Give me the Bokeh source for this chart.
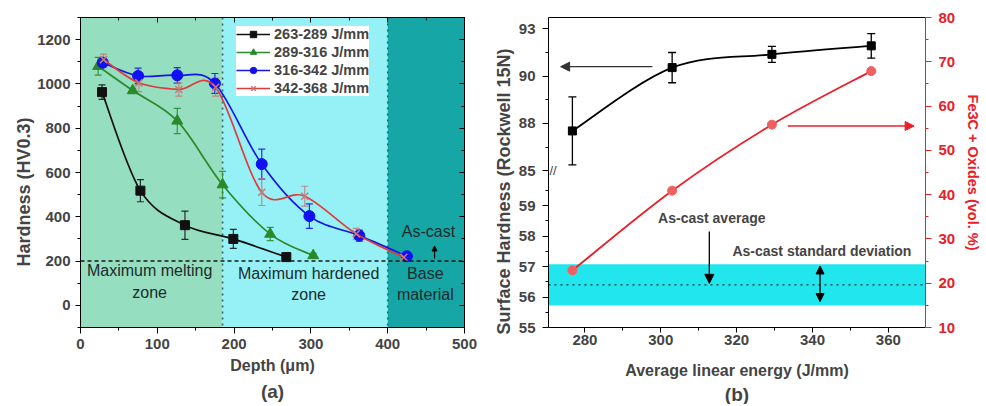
import numpy as np
from bokeh.plotting import figure
from bokeh.layouts import row
from bokeh.models import (Range1d, LinearAxis, SingleIntervalTicker, FixedTicker, Whisker, TeeHead,
                          ColumnDataSource, BoxAnnotation, Span, Label, Arrow, NormalHead, Legend,
                          LegendItem, CustomJSTickFormatter, Title)
from bokeh.embed import file_html
from bokeh.resources import INLINE

FONT = "Liberation Sans"

# ---------------- panel (a) data ----------------
series_labels = ["263-289 J/mm", "289-316 J/mm", "316-342 J/mm", "342-368 J/mm"]

depth_263 = [28, 78, 136, 199, 268]
hv_263 = [963, 518, 362, 300, 218]
err_263 = [33, 50, 64, 43, 8]

depth_289 = [23, 68, 126, 185, 247, 303]
hv_289 = [1080, 970, 833, 545, 322, 225]
err_289 = [40, 10, 57, 60, 30, 10]

depth_316 = [29, 75, 126, 175, 236, 298, 363, 425]
hv_316 = [1096, 1036, 1039, 1002, 638, 403, 315, 222]
err_316 = [20, 35, 35, 45, 68, 55, 25, 10]

depth_342 = [30, 76, 128, 176, 236, 292, 359, 421]
hv_342 = [1110, 1005, 975, 985, 511, 493, 323, 217]
err_342 = [25, 40, 30, 40, 60, 45, 25, 8]

zone_edges = [0, 185, 400, 500]
zone_colors = ["#95DEC0", "#96F1F6", "#17A6A6"]
as_cast_hv = 200

# ---------------- panel (b) data ----------------
energy = [276.7, 303.0, 329.3, 355.5]
hardness_15n = [87.1, 90.45, 91.15, 91.6]
hardness_err = [1.8, 0.8, 0.42, 0.65]
fe3c_oxides = [22.9, 40.9, 55.8, 67.9]
as_cast_avg = 56.4
as_cast_sd = 0.68

low_ticks = [55, 56, 57, 58, 59]
high_ticks = [85, 87.5, 90, 92.5]


def smooth(x, y):
    """Bezier segments (Catmull-Rom tangents) passing through every data point."""
    x = np.asarray(x, float)
    y = np.asarray(y, float)
    n = len(x)
    xp = np.concatenate([[x[0]], x, [x[-1]]])
    yp = np.concatenate([[y[0]], y, [y[-1]]])
    return dict(
        x0=x[:-1], y0=y[:-1], x1=x[1:], y1=y[1:],
        cx0=xp[1:n] + (xp[2:n + 1] - xp[0:n - 1]) / 6.0,
        cy0=yp[1:n] + (yp[2:n + 1] - yp[0:n - 1]) / 6.0,
        cx1=xp[2:n + 1] - (xp[3:n + 2] - xp[1:n]) / 6.0,
        cy1=yp[2:n + 1] - (yp[3:n + 2] - yp[1:n]) / 6.0,
    )


def style_axis(ax, size="15px"):
    ax.major_label_text_font = FONT
    ax.major_label_text_font_style = "bold"
    ax.major_label_text_font_size = size
    ax.axis_label_text_font = FONT
    ax.axis_label_text_font_style = "bold"
    ax.major_tick_out = 5
    ax.major_tick_in = 0
    ax.minor_tick_out = 3
    ax.minor_tick_in = 0
    ax.axis_line_color = "black"
    ax.major_tick_line_color = "black"
    ax.minor_tick_line_color = "black"


def mirror_axis(ticker, tick_in=5, minor_in=3):
    return LinearAxis(ticker=ticker, major_label_text_font_size="1px", major_label_text_color=None,
                      major_label_standoff=0, major_tick_in=tick_in, major_tick_out=0,
                      minor_tick_in=minor_in, minor_tick_out=0, axis_line_color="black")


H = 404

# ======================= panel (a) =======================
p1 = figure(width=490, height=H, x_range=Range1d(0, 500), y_range=Range1d(-100, 1300),
            output_backend="svg", toolbar_location=None,
            min_border_left=80, min_border_right=26, min_border_top=17, min_border_bottom=H - 328)
p1.grid.visible = False
p1.outline_line_color = "black"

p1.xaxis.ticker = SingleIntervalTicker(interval=100, num_minor_ticks=2)
p1.yaxis.ticker = SingleIntervalTicker(interval=200, num_minor_ticks=2)
style_axis(p1.xaxis[0])
style_axis(p1.yaxis[0])
p1.xaxis.major_tick_out = 6
p1.xaxis.axis_label = "Depth (μm)"
p1.xaxis.axis_label_text_font_size = "16px"
p1.xaxis.major_label_standoff = 5
p1.xaxis.axis_label_standoff = 5
p1.yaxis.major_label_standoff = 5
p1.add_layout(mirror_axis(SingleIntervalTicker(interval=100, num_minor_ticks=2)), "above")
p1.add_layout(mirror_axis(SingleIntervalTicker(interval=200, num_minor_ticks=2)), "right")
p1.add_layout(Title(text="Hardness (HV0.3)", align="left", offset=61, standoff=2, text_font=FONT,
                    text_font_style="bold", text_font_size="18px"), "left")
p1.add_layout(Title(text="(a)", align="center", offset=7, standoff=4, text_font=FONT,
                    text_font_style="bold", text_font_size="19px"), "below")

for i in range(len(zone_colors)):
    p1.add_layout(BoxAnnotation(left=zone_edges[i], right=zone_edges[i + 1], fill_color=zone_colors[i],
                                fill_alpha=1.0, line_color=None, level="underlay"))
for edge in zone_edges[1:-1]:
    p1.add_layout(Span(location=edge, dimension="height", line_color="#1E6E66", line_width=1.6,
                       line_dash="dotted", level="underlay"))
p1.add_layout(Span(location=as_cast_hv, dimension="width", line_color="#1a1a1a", line_width=1.6,
                   line_dash="4 3"))

series = [
    (depth_263, hv_263, err_263, "#111111", "square", 9, "#111111"),
    (depth_289, hv_289, err_289, "#2A8A2A", "triangle", 11, "#2A8A2A"),
    (depth_316, hv_316, err_316, "#1515E6", "circle", 11, "#1010F0"),
    (depth_342, hv_342, err_342, "#E03A3A", "x", 10, "#C87878"),
]
items = []
for (xs, ys, es, col, mk, sz, mcol), lab in zip(series, series_labels):
    seg = ColumnDataSource(smooth(xs, ys))
    rc = p1.bezier(x0="x0", y0="y0", x1="x1", y1="y1", cx0="cx0", cy0="cy0", cx1="cx1", cy1="cy1",
                   source=seg, line_color=col, line_width=1.7)
    src = ColumnDataSource(dict(x=xs, y=ys, up=[a + b for a, b in zip(ys, es)],
                                lo=[a - b for a, b in zip(ys, es)]))
    p1.add_layout(Whisker(base="x", upper="up", lower="lo", source=src, line_color=mcol, line_alpha=0.85,
                          line_width=1.2,
                          upper_head=TeeHead(size=7, line_color=mcol, line_alpha=0.85, line_width=1.2),
                          lower_head=TeeHead(size=7, line_color=mcol, line_alpha=0.85, line_width=1.2)))
    rp = p1.scatter(x="x", y="y", source=src, marker=mk, size=sz, fill_color=mcol, line_color=mcol,
                    line_width=1.5 if mk == "x" else 1)
    items.append(LegendItem(label=lab, renderers=[rc, rp]))

legend = Legend(items=items, location=(156, 231), label_text_font=FONT, label_text_font_style="bold",
                label_text_font_size="14.5px", label_height=16, glyph_height=16, glyph_width=34,
                spacing=2, padding=3, label_standoff=4, border_line_color=None,
                background_fill_color="white", background_fill_alpha=1.0)
p1.add_layout(legend)

zone_txt = dict(text_font=FONT, text_font_size="16px", text_color="#1c2b2b", text_align="center",
                text_baseline="middle")
for x, y, t in [(90, 158, "Maximum melting"), (90, 56, "zone"),
                (297, 146, "Maximum hardened"), (297, 50, "zone"),
                (449, 146, "Base"), (449, 50, "material"),
                (453, 333, "As-cast")]:
    p1.add_layout(Label(x=x, y=y, text=t, **zone_txt))
p1.add_layout(Arrow(x_start=461, y_start=212, x_end=461, y_end=268, line_color="black", line_width=1.2,
                    end=NormalHead(size=5, fill_color="black", line_color="black")))

# ======================= panel (b) =======================
LOW_TOP = 60.15
HIGH_TOP = 93.1
BREAK_FRAC = 0.506
lo_rng = Range1d(low_ticks[0], low_ticks[0] + (LOW_TOP - low_ticks[0]) / BREAK_FRAC)
hi_rng = Range1d(HIGH_TOP - (HIGH_TOP - high_ticks[0]) / (1 - BREAK_FRAC), HIGH_TOP)
fe_rng = Range1d(10, 80)

W2 = 494
p2 = figure(width=W2, height=H, x_range=Range1d(270.4, 369.8), y_range=lo_rng,
            output_backend="svg", toolbar_location=None,
            min_border_left=54, min_border_right=W2 - 439, min_border_top=17, min_border_bottom=H - 330)
p2.extra_y_ranges = {"high": hi_rng, "fe": fe_rng}
p2.grid.visible = False
p2.outline_line_color = None

lo_span = lo_rng.end - lo_rng.start
hi_span = hi_rng.end - hi_rng.start
mapped_high = [lo_rng.start + (t - hi_rng.start) * lo_span / hi_span for t in high_ticks]
minor_low = [t + 0.5 for t in low_ticks]
minor_high = [lo_rng.start + ((a + b) / 2 - hi_rng.start) * lo_span / hi_span
              for a, b in zip(high_ticks[:-1], high_ticks[1:])]
p2.yaxis.ticker = FixedTicker(ticks=low_ticks + mapped_high, minor_ticks=minor_low + minor_high)
p2.yaxis.formatter = CustomJSTickFormatter(
    args=dict(ls=lo_rng.start, le=lo_rng.end, hs=hi_rng.start, he=hi_rng.end,
              brk=low_ticks[-1] + 0.5),
    code="""
    let v = tick;
    if (tick > brk) { v = hs + (tick - ls) * (he - hs) / (le - ls); }
    return Math.round(v + 1e-6).toFixed(0);
    """)
style_axis(p2.yaxis[0])
p2.yaxis.major_tick_out = 6
p2.yaxis.major_label_standoff = 7
p2.add_layout(Title(text="Surface Hardness (Rockwell 15N)", align="left", offset=-7, standoff=3,
                    text_font=FONT, text_font_style="bold", text_font_size="18px"), "left")

p2.xaxis.ticker = SingleIntervalTicker(interval=20, num_minor_ticks=2)
style_axis(p2.xaxis[0])
p2.xaxis.major_tick_out = 5
p2.xaxis.axis_label = "Average linear energy (J/mm)"
p2.xaxis.axis_label_text_font_size = "16px"
p2.xaxis.major_label_standoff = 2
p2.xaxis.axis_label_standoff = 14
p2.add_layout(Title(text="(b)", align="center", offset=5, standoff=0, text_font=FONT,
                    text_font_style="bold", text_font_size="19px"), "below")

RED = "#E8202A"
rax = LinearAxis(y_range_name="fe", ticker=SingleIntervalTicker(interval=10, num_minor_ticks=2),
                 axis_label="Fe3C + Oxides (vol. %)")
style_axis(rax)
rax.major_tick_out = 6
rax.axis_line_color = RED
rax.major_tick_line_color = RED
rax.minor_tick_line_color = RED
rax.major_label_text_color = RED
rax.axis_label_text_color = RED
rax.axis_label_text_font_size = "14.5px"
rax.major_label_standoff = 7
rax.axis_label_standoff = 7
p2.add_layout(rax, "right")
p2.add_layout(mirror_axis(SingleIntervalTicker(interval=20), tick_in=0, minor_in=0), "above")

p2.add_layout(BoxAnnotation(bottom=as_cast_avg - as_cast_sd, top=as_cast_avg + as_cast_sd,
                            fill_color="#22E6EE", fill_alpha=1.0, line_color=None, level="underlay"))
p2.add_layout(Span(location=as_cast_avg, dimension="width", line_color="black", line_width=1,
                   line_dash="dotted"))

# hardness (black, upper segment of left axis)
seg_h = ColumnDataSource(smooth(energy, hardness_15n))
p2.bezier(x0="x0", y0="y0", x1="x1", y1="y1", cx0="cx0", cy0="cy0", cx1="cx1", cy1="cy1",
          source=seg_h, line_color="black", line_width=1.8, y_range_name="high")
src_h = ColumnDataSource(dict(x=energy, y=hardness_15n,
                              up=[a + b for a, b in zip(hardness_15n, hardness_err)],
                              lo=[a - b for a, b in zip(hardness_15n, hardness_err)]))
p2.add_layout(Whisker(base="x", upper="up", lower="lo", source=src_h, y_range_name="high",
                      line_color="black", line_width=1.3,
                      upper_head=TeeHead(size=8, line_color="black", line_width=1.3),
                      lower_head=TeeHead(size=8, line_color="black", line_width=1.3)))
p2.scatter(x="x", y="y", source=src_h, marker="square", size=8, fill_color="black", line_color="black",
           y_range_name="high")

# Fe3C + oxides (red, right axis)
seg_f = ColumnDataSource(smooth(energy, fe3c_oxides))
p2.bezier(x0="x0", y0="y0", x1="x1", y1="y1", cx0="cx0", cy0="cy0", cx1="cx1", cy1="cy1",
          source=seg_f, line_color=RED, line_width=1.8, y_range_name="fe")
p2.scatter(x=energy, y=fe3c_oxides, marker="circle", size=9, fill_color="#F06060", line_color="#F06060",
           y_range_name="fe")

# annotations
p2.add_layout(Arrow(x_start=297.8, y_start=90.5, x_end=273.6, y_end=90.5, y_range_name="high",
                    line_color="#333333", line_width=1.3,
                    end=NormalHead(size=9, fill_color="#333333", line_color="#333333")))
p2.add_layout(Arrow(x_start=333.5, y_start=55.5, x_end=366.8, y_end=55.5, y_range_name="fe",
                    line_color=RED, line_width=1.3, end=NormalHead(size=9, fill_color=RED, line_color=RED)))
p2.add_layout(Arrow(x_start=312.8, y_start=58.15, x_end=312.8, y_end=56.45, line_color="black",
                    line_width=1.3, end=NormalHead(size=9, fill_color="black", line_color="black")))
p2.add_layout(Arrow(x_start=342.0, y_start=55.85, x_end=342.0, y_end=57.02, line_color="black",
                    line_width=1.3, start=NormalHead(size=8, fill_color="black", line_color="black"),
                    end=NormalHead(size=8, fill_color="black", line_color="black")))
note = dict(text_font=FONT, text_font_style="bold", text_font_size="14px", text_baseline="middle")
p2.add_layout(Label(x=299.3, y=58.6, text="As-cast average", **note))
p2.add_layout(Label(x=318.9, y=57.5, text="As-cast standard deviation", **note))
p2.add_layout(Label(x=271.6, y=LOW_TOP, text="//", text_font=FONT, text_font_size="13px",
                    text_align="center", text_baseline="middle"))

layout = row(p1, p2)
open("out.html", "w").write(file_html(layout, INLINE))
